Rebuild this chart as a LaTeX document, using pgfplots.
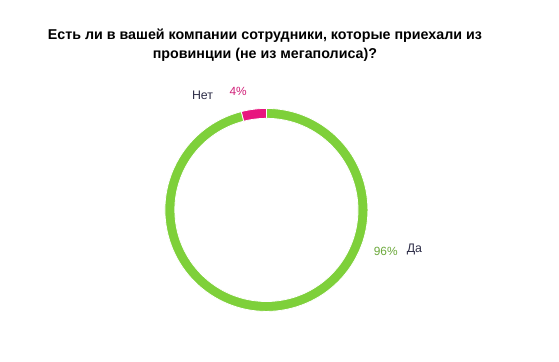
\documentclass[border=0pt]{standalone}
\usepackage{pgfplots}
\pgfplotsset{compat=1.18}
\usepackage{pgfplotstable}
\usepackage{fontspec}
\setmainfont{Liberation Sans}
\definecolor{ringgreen}{HTML}{7ED03A}
\definecolor{ringpink}{HTML}{E8157F}
\definecolor{pctgreen}{HTML}{6BA83A}
\definecolor{pctpink}{HTML}{D01F78}
\definecolor{lbl}{HTML}{2E2E48}
\pgfplotstableread{
label value
Нет 4
Да 96
}\datatable
\begin{document}
\pgfplotstablegetelem{0}{value}\of\datatable \let\vno\pgfplotsretval
\pgfplotstablegetelem{1}{value}\of\datatable \let\vyes\pgfplotsretval
\pgfmathsetmacro\aend{90+3.6*\vno}
\pgfmathsetmacro\bend{\aend+3.6*\vyes}
\begin{tikzpicture}
\begin{axis}[width=559pt,height=365pt,scale only axis,
  xmin=0,xmax=559,ymin=0,ymax=365,hide axis,clip=false]
% pink segment (Нет)
\fill[ringpink,draw=white,line width=0.8pt]
  ([shift={(axis cs:263.5,153)}]90:102.5pt) arc[start angle=90,end angle=\aend,radius=102.5pt]
  -- ([shift={(axis cs:263.5,153)}]\aend:92.5pt) arc[start angle=\aend,end angle=90,radius=92.5pt] -- cycle;
% green segment (Да)
\fill[ringgreen,draw=white,line width=0.8pt]
  ([shift={(axis cs:263.5,153)}]\aend:102.5pt) arc[start angle=\aend,end angle=\bend,radius=102.5pt]
  -- ([shift={(axis cs:263.5,153)}]\bend:92.5pt) arc[start angle=\bend,end angle=\aend,radius=92.5pt] -- cycle;
\node[font=\fontsize{14.4}{16}\selectfont\bfseries] at (axis cs:262,329) {Есть ли в вашей компании сотрудники, которые приехали из};
\node[font=\fontsize{14.4}{16}\selectfont\bfseries] at (axis cs:262,310) {провинции (не из мегаполиса)?};
\node[font=\fontsize{12.5}{14}\selectfont,text=lbl] at (axis cs:199,268.5) {Нет};
\node[font=\fontsize{12}{14}\selectfont,text=pctpink] at (axis cs:235,272.5) {\vno\%};
\node[font=\fontsize{12}{14}\selectfont,text=pctgreen] at (axis cs:384,111.5) {\vyes\%};
\node[font=\fontsize{12.5}{14}\selectfont,text=lbl] at (axis cs:413,113.5) {Да};
\end{axis}
\pgfresetboundingbox
\path[use as bounding box] (0,0) rectangle (559pt,365pt);
\end{tikzpicture}
\end{document}
